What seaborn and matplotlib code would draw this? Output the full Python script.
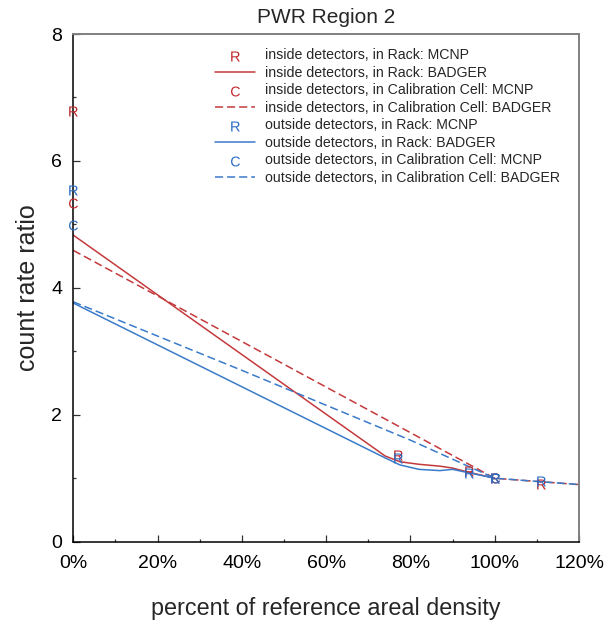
import matplotlib
matplotlib.use("Agg")
import matplotlib.pyplot as plt
from matplotlib.ticker import MultipleLocator, PercentFormatter
import seaborn as sns

# ---- data -------------------------------------------------------------
# BADGER, detectors in the storage rack
x_rack_badger = [0, 74, 77.5, 82, 87, 90, 93.5, 100]
inside_rack_badger = [4.83, 1.35, 1.26, 1.22, 1.19, 1.16, 1.10, 1.00]
outside_rack_badger = [3.76, 1.32, 1.21, 1.14, 1.12, 1.14, 1.09, 1.00]

# BADGER, detectors in the calibration cell
x_inside_cal_badger = [0, 100, 120]
inside_cal_badger = [4.59, 1.00, 0.90]
x_outside_cal_badger = [0, 40, 80, 100, 120]
outside_cal_badger = [3.78, 2.70, 1.60, 1.00, 0.90]

# MCNP points
x_rack_mcnp = [0, 77, 94, 100, 111]
inside_rack_mcnp = [6.79, 1.37, 1.11, 1.00, 0.91]
outside_rack_mcnp = [5.54, 1.32, 1.08, 1.00, 0.95]
x_cal_mcnp = [0, 100]
inside_cal_mcnp = [5.34, 1.00]
outside_cal_mcnp = [4.99, 1.00]

legend_labels = [
    "inside detectors, in Rack: MCNP",
    "inside detectors, in Rack: BADGER",
    "inside detectors, in Calibration Cell: MCNP",
    "inside detectors, in Calibration Cell: BADGER",
    "outside detectors, in Rack: MCNP",
    "outside detectors, in Rack: BADGER",
    "outside detectors, in Calibration Cell: MCNP",
    "outside detectors, in Calibration Cell: BADGER",
]

# ---- style ------------------------------------------------------------
sns.set_theme(style="white")
plt.rcParams["font.family"] = ["Liberation Sans", "DejaVu Sans"]
plt.rcParams["mathtext.fontset"] = "custom"
plt.rcParams["mathtext.rm"] = "Liberation Sans"

RED = "#c0282d"
BLUE = "#2a6dc5"
RED_LINE = "#c43a3c"
BLUE_LINE = "#3a7bca"
LW = 1.1
DASH = (0, (5.3, 2.6))
MS = 52

fig = plt.figure(figsize=(6.10, 6.24), dpi=100)
ax = fig.add_axes([0.1202, 0.1319, 0.8290, 0.8136])

# BADGER curves
sns.lineplot(x=x_rack_badger, y=inside_rack_badger, color=RED_LINE, lw=LW,
             label=legend_labels[1], ax=ax)
sns.lineplot(x=x_inside_cal_badger, y=inside_cal_badger, color=RED_LINE, lw=LW,
             linestyle=DASH, label=legend_labels[3], ax=ax)
sns.lineplot(x=x_rack_badger, y=outside_rack_badger, color=BLUE_LINE, lw=LW,
             label=legend_labels[5], ax=ax)
sns.lineplot(x=x_outside_cal_badger, y=outside_cal_badger, color=BLUE_LINE,
             lw=LW, linestyle=DASH, label=legend_labels[7], ax=ax)

# MCNP points drawn as letters
R_MARK = r"$\mathrm{R}$"
C_MARK = r"$\mathrm{C}$"
sns.scatterplot(x=x_rack_mcnp, y=inside_rack_mcnp, marker=R_MARK, s=MS,
                color=RED, linewidth=0, label=legend_labels[0], ax=ax,
                clip_on=False, zorder=5)
sns.scatterplot(x=x_cal_mcnp, y=inside_cal_mcnp, marker=C_MARK, s=MS,
                color=RED, linewidth=0, label=legend_labels[2], ax=ax,
                clip_on=False, zorder=5)
sns.scatterplot(x=x_rack_mcnp, y=outside_rack_mcnp, marker=R_MARK, s=MS,
                color=BLUE, linewidth=0, label=legend_labels[4], ax=ax,
                clip_on=False, zorder=6)
sns.scatterplot(x=x_cal_mcnp, y=outside_cal_mcnp, marker=C_MARK, s=MS,
                color=BLUE, linewidth=0, label=legend_labels[6], ax=ax,
                clip_on=False, zorder=6)

# ---- axes -------------------------------------------------------------
ax.set_xlim(0, 120)
ax.set_ylim(0, 8)
ax.xaxis.set_major_locator(MultipleLocator(20))
ax.xaxis.set_minor_locator(MultipleLocator(10))
ax.xaxis.set_major_formatter(PercentFormatter(decimals=0))
ax.yaxis.set_major_locator(MultipleLocator(2))
ax.yaxis.set_minor_locator(MultipleLocator(1))

ax.tick_params(axis="both", which="both", direction="in", colors="#333333",
               labelcolor="black", labelsize=14, width=0.9)
ax.tick_params(axis="both", which="major", length=4.8)
ax.tick_params(axis="both", which="minor", length=2.4)
ax.tick_params(axis="x", which="major", pad=9.5)
ax.tick_params(axis="y", which="major", pad=8)
ax.tick_params(bottom=True, left=True, top=False, right=False, which="both")

for side in ("left", "bottom"):
    ax.spines[side].set_color("black")
    ax.spines[side].set_linewidth(1.1)
for side in ("top", "right"):
    ax.spines[side].set_color("#808080")
    ax.spines[side].set_linewidth(1.4)

ax.set_xlabel("percent of reference areal density", fontsize=16.8, labelpad=18)
ax.set_ylabel("count rate ratio", fontsize=18, labelpad=8)
ax.set_title("PWR Region 2", fontsize=15, pad=8)

# legend in fixed order
handles, labels = ax.get_legend_handles_labels()
lookup = dict(zip(labels, handles))
ax.legend([lookup[l] for l in legend_labels], legend_labels,
          loc="upper left", bbox_to_anchor=(0.280, 0.972), frameon=False,
          fontsize=10.2, borderpad=0, borderaxespad=0, handlelength=2.82,
          handletextpad=0.75, labelspacing=0.25)

fig.savefig("out.png", dpi=100)
